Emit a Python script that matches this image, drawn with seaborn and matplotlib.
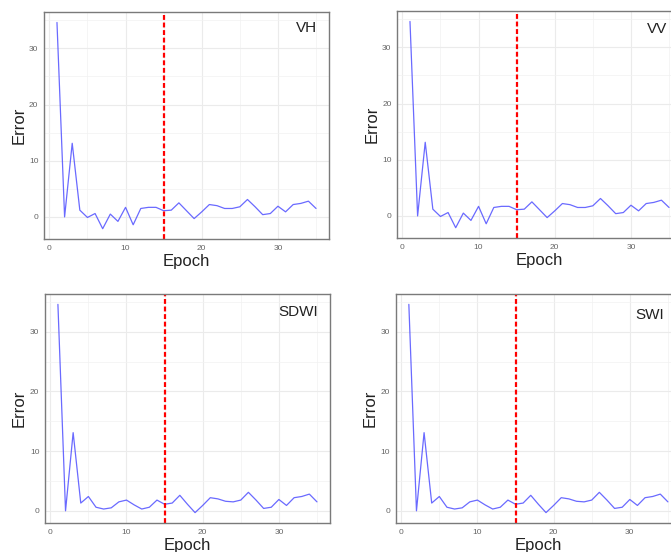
import matplotlib
matplotlib.use("Agg")
import matplotlib.pyplot as plt
from matplotlib.ticker import MultipleLocator
import seaborn as sns
import pandas as pd
import numpy as np

# Datos (error por época)
epochs = list(range(1, 36))
error_vh = [34.6, 0.0, 13.1, 1.2, -0.1, 0.6, -2.1, 0.5, -0.8, 1.7,
            -1.4, 1.5, 1.7, 1.7, 1.1, 1.2, 2.5, 1.1, -0.3, 0.9,
            2.2, 2.0, 1.5, 1.5, 1.8, 3.1, 1.8, 0.4, 0.6, 1.9,
            0.9, 2.2, 2.4, 2.8, 1.5]
error_vv = [34.6, 0.0, 13.1, 1.2, -0.1, 0.6, -2.1, 0.5, -0.8, 1.7,
            -1.4, 1.5, 1.7, 1.7, 1.1, 1.2, 2.5, 1.1, -0.3, 0.9,
            2.2, 2.0, 1.5, 1.5, 1.8, 3.1, 1.8, 0.4, 0.6, 1.9,
            0.9, 2.2, 2.4, 2.8, 1.5]
error_sdwi = [34.6, 0.0, 13.1, 1.3, 2.4, 0.6, 0.3, 0.5, 1.5, 1.8,
              1.0, 0.3, 0.6, 1.8, 1.1, 1.3, 2.6, 1.1, -0.3, 0.9,
              2.2, 2.0, 1.6, 1.5, 1.8, 3.1, 1.8, 0.4, 0.6, 1.9,
              0.9, 2.2, 2.4, 2.8, 1.5]
error_swi = [34.6, 0.0, 13.1, 1.3, 2.4, 0.6, 0.3, 0.5, 1.5, 1.8,
             1.0, 0.3, 0.6, 1.8, 1.1, 1.3, 2.6, 1.1, -0.3, 0.9,
             2.2, 2.0, 1.6, 1.5, 1.8, 3.1, 1.8, 0.4, 0.6, 1.9,
             0.9, 2.2, 2.4, 2.8, 1.5]
cutoff_epoch = 15
panel_names = ["VH", "VV", "SDWI", "SWI"]

series = {"VH": error_vh, "VV": error_vv, "SDWI": error_sdwi, "SWI": error_swi}

sns.set_style("white")
plt.rcParams["font.family"] = ["Liberation Sans", "DejaVu Sans"]

fig = plt.figure(figsize=(6.71, 5.52), dpi=100)

# posiciones de cada panel [left, bottom, width, height] y posición del rótulo
layout = {
    "VH": ([0.0656, 0.567, 0.4247, 0.411], (0.92, 0.93)),
    "VV": ([0.5917, 0.5688, 0.4247, 0.411], (0.914, 0.922)),
    "SDWI": ([0.067, 0.0525, 0.4247, 0.415], (0.89, 0.92)),
    "SWI": ([0.590, 0.0525, 0.4247, 0.415], (0.89, 0.908)),
}

for name in panel_names:
    rect, (tx, ty) = layout[name]
    ax = fig.add_axes(rect)
    df = pd.DataFrame({"Epoch": epochs, "Error": series[name]})

    # Rejilla estilo ggplot theme_bw
    ax.set_axisbelow(True)
    ax.xaxis.set_major_locator(MultipleLocator(10))
    ax.xaxis.set_minor_locator(MultipleLocator(5))
    ax.yaxis.set_major_locator(MultipleLocator(10))
    ax.yaxis.set_minor_locator(MultipleLocator(5))
    ax.grid(which="major", color="#ebebeb", linewidth=0.8)
    ax.grid(which="minor", color="#f2f2f2", linewidth=0.5)

    sns.lineplot(data=df, x="Epoch", y="Error", ax=ax, color="#5050ff",
                 alpha=0.85, linewidth=0.9)
    ax.axvline(cutoff_epoch, color="red", linestyle=(0, (2.2, 1.2)), linewidth=1.6)

    # Expansión del 5% como ggplot
    x0, x1 = min(epochs), max(epochs)
    dx = (x1 - x0) * 0.05
    y0, y1 = min(series[name]), max(series[name])
    dy = (y1 - y0) * 0.05
    ax.set_xlim(x0 - dx, x1 + dx)
    ax.set_ylim(y0 - dy, y1 + dy)

    for sp in ax.spines.values():
        sp.set_color("#7a7a7a")
        sp.set_linewidth(1.0)
    ax.tick_params(which="major", length=2, width=0.6, color="#7a7a7a",
                   labelsize=6, labelcolor="#666666", pad=2)
    ax.tick_params(which="minor", length=0)

    ax.set_xlabel("Epoch", fontsize=12, color="#222222", labelpad=2)
    ax.set_ylabel("Error", fontsize=12, color="#222222", labelpad=2)
    ax.text(tx, ty, name, transform=ax.transAxes, ha="center", va="center",
            fontsize=11, color="#222222")

fig.savefig("out.png", dpi=100)
